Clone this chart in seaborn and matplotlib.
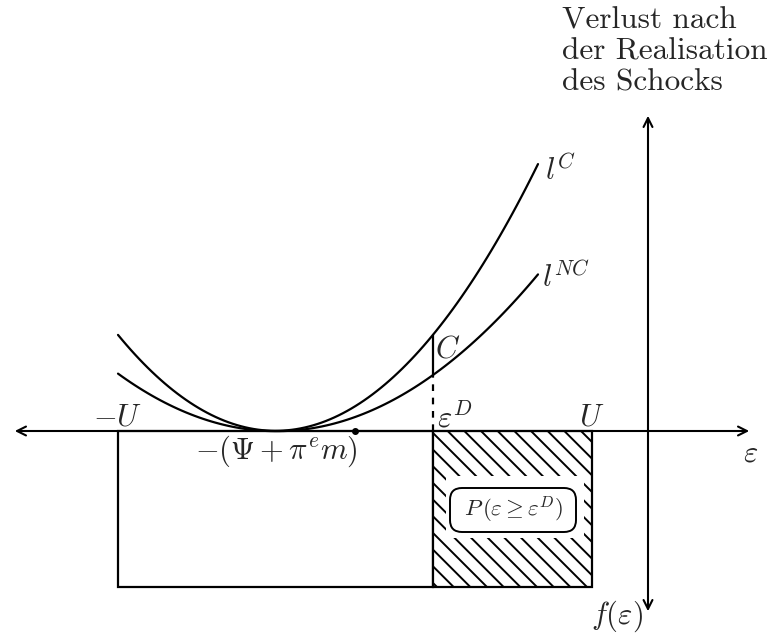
import numpy as np
import pandas as pd
import matplotlib
matplotlib.use("Agg")
import matplotlib.pyplot as plt
from matplotlib.patches import Rectangle, FancyBboxPatch
import seaborn as sns

# key points on the epsilon axis (axis crossing = 0)
u_left = -5.30
u_right = -0.56
eps_d = -2.15
vertex = -3.72
dot_x = -2.93
density_height = 1.56

# loss curves, values
curve_x = [-5.30, -4.80, -4.30, -3.70, -3.20, -2.70, -2.15, -1.60, -1.10]
loss_c = [0.96, 0.45, 0.13, 0.00, 0.11, 0.41, 0.96, 1.75, 2.67]
loss_nc = [0.57, 0.27, 0.08, 0.00, 0.06, 0.23, 0.56, 1.02, 1.57]

sns.set_style("white")
plt.rcParams["mathtext.fontset"] = "cm"
plt.rcParams["hatch.linewidth"] = 1.4

fig = plt.figure(figsize=(7.67, 6.35), dpi=100)
ax = fig.add_axes([0, 0, 1, 1])

df = pd.DataFrame({"eps": curve_x, "lc": loss_c, "lnc": loss_nc})
sns.regplot(data=df, x="eps", y="lc", order=2, scatter=False, ci=None,
            truncate=True, color="black", line_kws={"lw": 1.6}, ax=ax)
sns.regplot(data=df, x="eps", y="lnc", order=2, scatter=False, ci=None,
            truncate=True, color="black", line_kws={"lw": 1.6}, ax=ax)

# axes with arrows
arrow = dict(arrowstyle="<->", lw=1.5, color="black", mutation_scale=16)
ax.annotate("", xy=(-6.36, 0), xytext=(1.04, 0), arrowprops=arrow)
ax.annotate("", xy=(0, 3.18), xytext=(0, -1.83), arrowprops=arrow)

# uniform density of the shock
ax.add_patch(Rectangle((u_left, -density_height), eps_d - u_left, density_height,
                       fill=False, edgecolor="black", lw=1.6))
ax.add_patch(Rectangle((eps_d, -density_height), u_right - eps_d, density_height,
                       facecolor="white", edgecolor="black", lw=1.6, hatch="\\\\"))
ax.add_patch(Rectangle((-2.02, -1.07), 1.38, 0.62, facecolor="white",
                       edgecolor="none", zorder=3))
ax.add_patch(FancyBboxPatch((-1.98, -1.01), 1.26, 0.44,
                            boxstyle="round,pad=0,rounding_size=0.12",
                            facecolor="white", edgecolor="black", lw=1.4, zorder=4))
ax.text(-1.35, -0.79, r"$P\,(\varepsilon \geq \varepsilon^D)$", fontsize=16.5,
        ha="center", va="center", zorder=5)

# point C and the threshold eps^D
c_y = loss_c[curve_x.index(eps_d)]
nc_y = loss_nc[curve_x.index(eps_d)]
ax.plot([eps_d, eps_d], [nc_y, c_y], color="black", lw=1.6)
ax.plot([eps_d, eps_d], [0, nc_y], color="black", lw=1.6, ls=(0, (3, 3)))
ax.plot([dot_x], [0], "o", color="black", ms=4)

# labels
fs = 22
ax.text(u_left, 0.06, r"$-U$", fontsize=fs, ha="center", va="baseline")
ax.text(u_right, 0.06, r"$U$", fontsize=fs, ha="center", va="baseline")
ax.text(-2.11, 0.03, r"$\varepsilon^D$", fontsize=fs, ha="left", va="baseline")
ax.text(-2.13, 0.73, r"$C$", fontsize=fs, ha="left", va="baseline")
ax.text(-1.03, 2.51, r"$l^C$", fontsize=fs, ha="left", va="baseline")
ax.text(-1.06, 1.44, r"$l^{NC}$", fontsize=fs, ha="left", va="baseline")
ax.text(vertex, -0.03, r"$-(\Psi + \pi^e m)$", fontsize=fs, ha="center", va="top")
ax.text(1.03, -0.08, r"$\varepsilon$", fontsize=fs, ha="center", va="top")
ax.text(-0.05, -1.85, r"$f(\varepsilon)$", fontsize=fs, ha="right", va="center")
ax.text(-0.86, 4.24, "Verlust nach\nder Realisation\ndes Schocks",
        fontsize=22.5, family="cmr10", ha="left", va="top", linespacing=1.13)

ax.set_xlim(-6.48, 1.19)
ax.set_ylim(-2.04, 4.31)
ax.axis("off")

fig.savefig("out.png", dpi=100)
